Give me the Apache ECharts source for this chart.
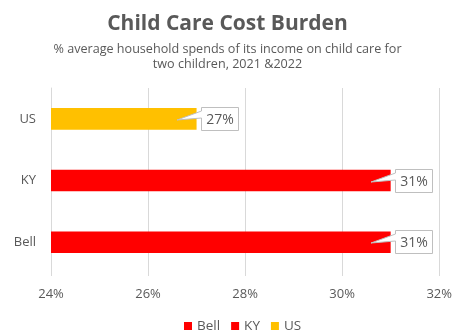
<!DOCTYPE html>
<html>
<head>
<meta charset="utf-8">
<script src="https://cdn.jsdelivr.net/npm/echarts@6/dist/echarts.min.js"></script>
<style>
  html, body { margin: 0; padding: 0; background: #fff; }
  #chart { width: 455px; height: 334px; }
</style>
</head>
<body>
<div id="chart"></div>
<script>
// bottom to top, as drawn
const categories = ["Bell", "KY", "US"];
const values = [31, 31, 27];
const barColors = ["#FF0000", "#FF0000", "#FFC000"];
const xTicks = [24, 26, 28, 30, 32];

const font = "'Open Sans', 'Liberation Sans', sans-serif";
const textColor = "#595959";

const chart = echarts.init(document.getElementById("chart"));

// one bar series per category so the legend lists each one
const barSeries = categories.map((name, i) => ({
  type: "bar",
  name: name,
  data: categories.map((c, j) => (j === i ? values[i] : "-")),
  barWidth: "35%",
  barGap: "-100%",
  itemStyle: { color: barColors[i] },
  animation: false,
  z: 2,
}));

// Excel-like callout labels
const calloutSeries = {
  type: "custom",
  name: "labels",
  silent: true,
  animation: false,
  z: 10,
  data: values.map((v, i) => [v, i]),
  encode: { x: 0, y: 1 },
  renderItem(params, api) {
    const end = api.coord([api.value(0), api.value(1)]);
    const cx = Math.round(end[0]);
    const cy = Math.round(end[1]);
    const x = cx + 4.5;
    const y = cy - 11.5;
    const w = 37;
    const h = 23;
    return {
      type: "group",
      children: [
        {
          type: "polygon",
          z2: 10,
          shape: {
            points: [
              [x, y], [x + w, y], [x + w, y + h], [x, y + h],
              [x, cy - 1], [cx - 20, cy + 1], [x, cy - 8],
            ],
          },
          style: { fill: "#fff", stroke: "#BFBFBF", lineWidth: 1 },
        },
        {
          type: "text",
          z2: 11,
          style: {
            text: api.value(0) + "%",
            x: x + w / 2,
            y: cy + 1,
            align: "center",
            verticalAlign: "middle",
            fill: textColor,
            font: "14px " + font,
          },
        },
      ],
    };
  },
};

chart.setOption({
  textStyle: { fontFamily: font },
  title: {
    text: "Child Care Cost Burden",
    subtext: "% average household spends of its income on child care for\ntwo children, 2021 &2022",
    left: "center",
    top: 9,
    itemGap: 7,
    textStyle: { color: textColor, fontSize: 21, fontWeight: "bold", fontFamily: font },
    subtextStyle: { color: textColor, fontSize: 12.6, lineHeight: 15, fontFamily: font },
  },
  legend: {
    data: categories,
    top: 314,
    left: 179,
    icon: "rect",
    itemWidth: 8,
    itemHeight: 8,
    itemGap: 11,
    selectedMode: false,
    textStyle: { color: textColor, fontSize: 13.5, padding: [0, 0, 0, 0] },
  },
  grid: { left: 51, right: 14, top: 88, bottom: 61, containLabel: false },
  xAxis: {
    type: "value",
    min: xTicks[0],
    max: xTicks[xTicks.length - 1],
    interval: 2,
    axisLine: { show: false },
    axisTick: { show: true, length: 3, lineStyle: { color: "#D9D9D9" } },
    axisLabel: { color: textColor, fontSize: 13, margin: 15, formatter: (v) => v + "%" },
    splitLine: { show: true, lineStyle: { color: "#D9D9D9" } },
  },
  yAxis: {
    type: "category",
    data: categories,
    axisLine: { show: true, lineStyle: { color: "#D9D9D9" } },
    axisTick: { show: false },
    axisLabel: { color: textColor, fontSize: 13, margin: 15 },
  },
  series: [...barSeries, calloutSeries],
});
</script>
</body>
</html>
